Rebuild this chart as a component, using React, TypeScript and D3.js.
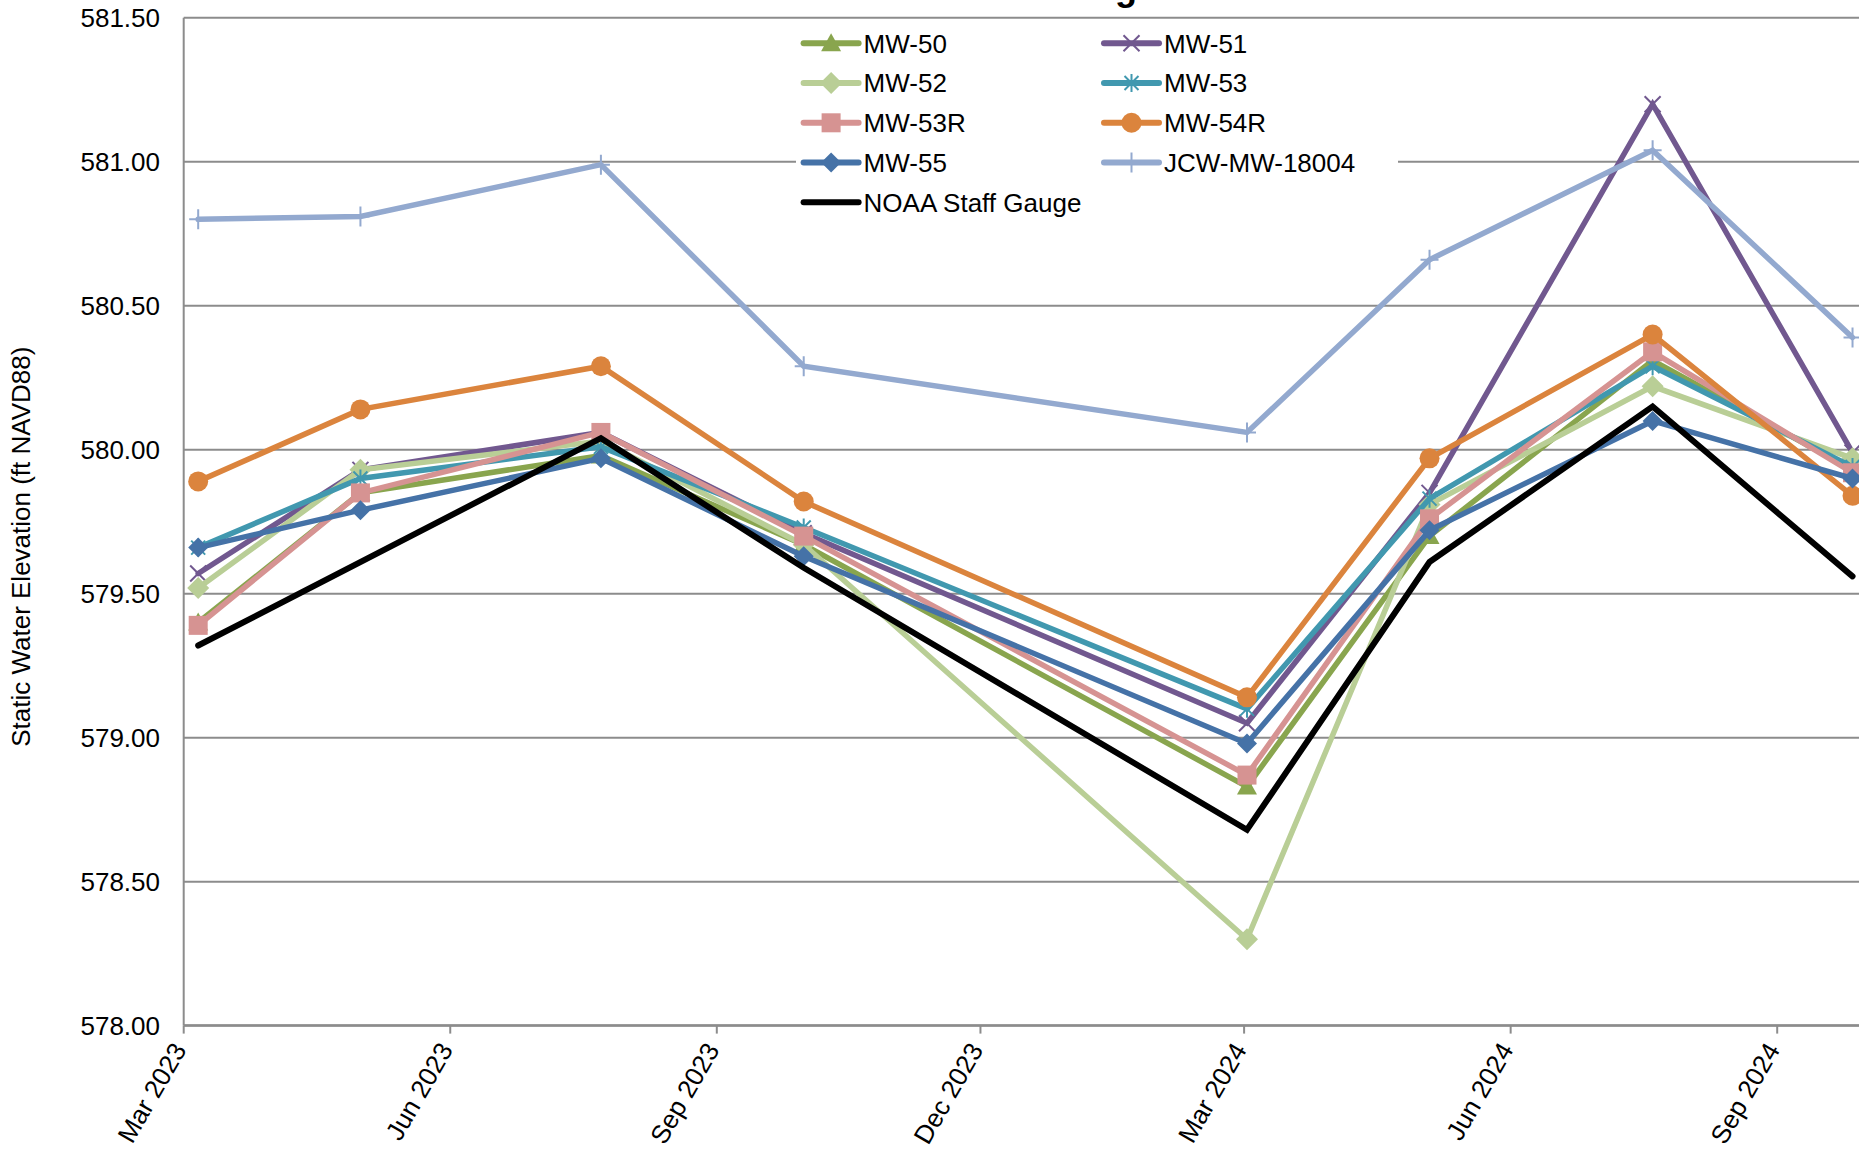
import React from "react";
import * as d3 from "d3";

const sampleDates = ["2023-03-06", "2023-05-01", "2023-07-23", "2023-10-01", "2024-03-02", "2024-05-04", "2024-07-20", "2024-09-27"];

const mw50 = [579.40, 579.85, 579.98, 579.67, 578.83, 579.70, 580.31, 579.93];
const mw51 = [579.57, 579.93, 580.06, 579.71, 579.05, 579.85, 581.20, 579.99];
const mw52 = [579.52, 579.93, 580.03, 579.67, 578.30, 579.81, 580.22, 579.97];
const mw53 = [579.66, 579.90, 580.01, 579.73, 579.10, 579.83, 580.29, 579.94];
const mw53r = [579.39, 579.85, 580.06, 579.70, 578.87, 579.76, 580.34, 579.92];
const mw54r = [579.89, 580.14, 580.29, 579.82, 579.14, 579.97, 580.40, 579.84];
const mw55 = [579.66, 579.79, 579.97, 579.63, 578.98, 579.72, 580.10, 579.90];
const jcw18004 = [580.80, 580.81, 580.99, 580.29, 580.06, 580.66, 581.04, 580.39];
const noaa: (number | null)[] = [579.32, null, 580.04, 579.59, 578.68, 579.61, 580.15, 579.56];

const seriesNames = ["MW-50", "MW-51", "MW-52", "MW-53", "MW-53R", "MW-54R", "MW-55", "JCW-MW-18004", "NOAA Staff Gauge"];
const seriesValues = [mw50, mw51, mw52, mw53, mw53r, mw54r, mw55, jcw18004, noaa];
const seriesColors = ["#89A54E", "#71588F", "#B9CE96", "#4198AF", "#D69392", "#DB843D", "#4572A7", "#93A9CF", "#000000"];
const seriesMarkers = ["triangle", "x", "diamondL", "star", "square", "circle", "diamond", "plus", "none"];

const yTicks = [578.0, 578.5, 579.0, 579.5, 580.0, 580.5, 581.0, 581.5];
const xTickDates = ["2023-03-01", "2023-06-01", "2023-09-01", "2023-12-01", "2024-03-01", "2024-06-01", "2024-09-01"];
const xDomain = ["2023-03-01", "2024-09-01"];
const yDomain = [578.0, 581.5];

const W = 1859;
const H = 1149;
const FONT = "'Liberation Sans', Arial, Helvetica, sans-serif";

const parse = (s: string) => new Date(s + "T00:00:00");

function Marker({ kind, x, y, color }: { kind: string; x: number; y: number; color: string }) {
  switch (kind) {
    case "triangle":
      return <path d={`M${x},${y - 10}L${x + 10},${y + 8}L${x - 10},${y + 8}Z`} fill={color} />;
    case "x":
      return (
        <path d={`M${x - 8},${y - 8}L${x + 8},${y + 8}M${x + 8},${y - 8}L${x - 8},${y + 8}`} stroke={color} strokeWidth={2} fill="none" />
      );
    case "diamondL":
      return <path d={`M${x},${y - 11}L${x + 11},${y}L${x},${y + 11}L${x - 11},${y}Z`} fill={color} />;
    case "diamond":
      return <path d={`M${x},${y - 10}L${x + 10},${y}L${x},${y + 10}L${x - 10},${y}Z`} fill={color} />;
    case "star":
      return (
        <path
          d={`M${x - 7},${y - 7}L${x + 7},${y + 7}M${x + 7},${y - 7}L${x - 7},${y + 7}M${x},${y - 9}L${x},${y + 9}`}
          stroke={color}
          strokeWidth={2}
          fill="none"
        />
      );
    case "square":
      return <rect x={x - 9.5} y={y - 9.5} width={19} height={19} fill={color} />;
    case "circle":
      return <circle cx={x} cy={y} r={10} fill={color} />;
    case "plus":
      return <path d={`M${x - 9},${y}L${x + 9},${y}M${x},${y - 10}L${x},${y + 10}`} stroke={color} strokeWidth={2} fill="none" />;
    default:
      return null;
  }
}

export default function App() {
  const left = 183.7;
  const top = 17.8;
  const bottom = 1025.6;
  const right = W;

  const x = d3
    .scaleTime()
    .domain(xDomain.map(parse))
    .range([left, 1777.2]);
  const y = d3.scaleLinear().domain(yDomain).range([bottom, top]);

  const dates = sampleDates.map(parse);

  const line = d3
    .line<[Date, number | null]>()
    .x((d) => x(d[0]))
    .y((d) => y(d[1] as number));

  const gridColor = "#8C8C8C";

  const legendX = [803.6, 1104];
  const legendY0 = 43.3;
  const legendDy = 39.75;

  return (
    <svg
      width={W}
      height={H}
      style={{ position: "absolute", left: 0, top: 0, display: "block", background: "#fff" }}
      fontFamily={FONT}
    >
      <rect x={0} y={0} width={W} height={H} fill="#fff" />
      {/* title (mostly cut off above the picture, only a descender shows) */}
      <text x={1137} y={-0.5} textAnchor="end" fontSize={36} fontWeight="bold" fill="#000">
        Static Water Elevation Monitoring
      </text>

      {/* gridlines */}
      {yTicks.map((t) => (
        <line key={t} x1={left} x2={right} y1={y(t)} y2={y(t)} stroke={gridColor} strokeWidth={2} />
      ))}

      {/* legend background */}
      <rect x={796} y={22} width={602} height={200} fill="#fff" />

      {/* y axis */}
      <line x1={left} x2={left} y1={top} y2={bottom} stroke={gridColor} strokeWidth={2} />
      {yTicks.map((t) => (
        <text key={t} x={160} y={y(t)} dy="0.35em" textAnchor="end" fontSize={26} fill="#000">
          {t.toFixed(2)}
        </text>
      ))}
      <text
        transform={`translate(${30},${(top + bottom) / 2 + 25}) rotate(-90)`}
        textAnchor="middle"
        fontSize={26}
        fill="#000"
      >
        Static Water Elevation (ft NAVD88)
      </text>

      {/* x axis */}
      <line x1={left} x2={right} y1={bottom} y2={bottom} stroke={gridColor} strokeWidth={2.5} />
      {xTickDates.map((s) => {
        const d = parse(s);
        const tx = x(d);
        return (
          <g key={s}>
            <line x1={tx} x2={tx} y1={bottom} y2={bottom + 8} stroke={gridColor} strokeWidth={2} />
            <text
              transform={`translate(${tx + 3.5},${bottom + 24}) rotate(-60)`}
              textAnchor="end"
              fontSize={26}
              fill="#000"
            >
              {d3.timeFormat("%b %Y")(d)}
            </text>
          </g>
        );
      })}

      {/* series */}
      {seriesValues.map((vals, i) => {
        const pts: [Date, number | null][] = dates
          .map((d, j) => [d, vals[j]] as [Date, number | null])
          .filter((p) => p[1] !== null);
        const color = seriesColors[i];
        return (
          <g key={seriesNames[i]}>
            <path d={line(pts) || ""} fill="none" stroke={color} strokeWidth={i === 8 ? 6 : 5.5} strokeLinejoin="miter" strokeLinecap="round" />
            {pts.map((p, j) => (
              <Marker key={j} kind={seriesMarkers[i]} x={x(p[0])} y={y(p[1] as number)} color={color} />
            ))}
          </g>
        );
      })}

      {/* legend */}
      {seriesNames.map((name, i) => {
        const col = i % 2;
        const row = Math.floor(i / 2);
        const lx = legendX[col];
        const ly = legendY0 + row * legendDy;
        const color = seriesColors[i];
        return (
          <g key={name}>
            <line x1={lx} x2={lx + 55} y1={ly} y2={ly} stroke={color} strokeWidth={6} strokeLinecap="round" />
            <Marker kind={seriesMarkers[i]} x={lx + 27.5} y={ly} color={color} />
            <text x={lx + 60} y={ly} dy="0.36em" fontSize={26} fill="#000">
              {name}
            </text>
          </g>
        );
      })}
    </svg>
  );
}
